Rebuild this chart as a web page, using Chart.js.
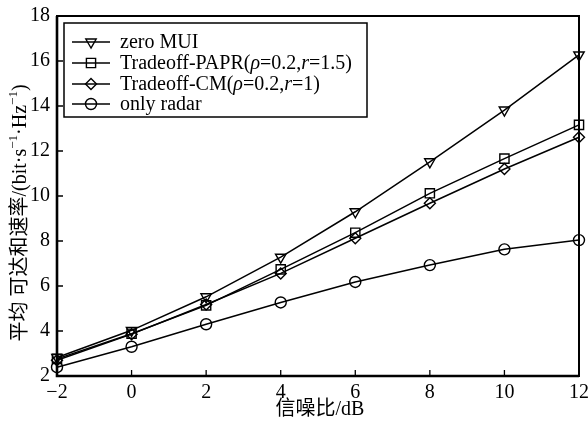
<!DOCTYPE html>
<html>
<head>
<meta charset="utf-8">
<script src="https://cdn.jsdelivr.net/npm/chart.js@4"></script>
<style>
  body { margin: 0; background: #fff; }
</style>
</head>
<body>
<canvas id="myChart" width="588" height="421"></canvas>
<script>
// SNR points (dB) and average achievable sum rate per scheme
const snr = [-2, 0, 2, 4, 6, 8, 10, 12];
const zeroMUI = [2.82, 4.03, 5.52, 7.28, 9.30, 11.52, 13.82, 16.27];
const tradeoffPAPR = [2.76, 3.88, 5.14, 6.74, 8.37, 10.12, 11.66, 13.16];
const tradeoffCM = [2.70, 3.86, 5.18, 6.56, 8.12, 9.68, 11.20, 12.61];
const onlyRadar = [2.39, 3.30, 4.30, 5.27, 6.18, 6.93, 7.63, 8.04];

// legend text, split so that rho and r can be set in italics
const legendLabels = [
    [['zero MUI', false]],
    [['Tradeoff-PAPR(', false], ['\u03c1', true], ['=0.2,', false], ['r', true], ['=1.5)', false]],
    [['Tradeoff-CM(', false], ['\u03c1', true], ['=0.2,', false], ['r', true], ['=1)', false]],
    [['only radar', false]]
];

const xTitle = '信噪比/dB';
const yTitle = [['平均 可达和速率/(bit·s', 0], ['\u22121', 1], ['·Hz', 0], ['\u22121', 1], [')', 0]];

const FONT = '"Liberation Serif", "Noto Sans CJK SC", serif';

function pts(ys) {
    return snr.map((x, i) => ({ x: x, y: ys[i] }));
}

function series(label, ys, style, rot, r) {
    return {
        label: label,
        data: pts(ys),
        borderColor: '#000',
        backgroundColor: 'rgba(0,0,0,0)',
        borderWidth: 1.5,
        pointStyle: style,
        pointRotation: rot,
        pointRadius: r,
        pointBorderWidth: 1.4,
        pointBorderColor: '#000',
        pointBackgroundColor: 'rgba(0,0,0,0)',
        tension: 0,
        clip: false
    };
}

const datasets = [
    series('zero MUI', zeroMUI, 'triangle', 180, 6),
    series('Tradeoff-PAPR', tradeoffPAPR, 'rect', 0, 6.5),
    series('Tradeoff-CM', tradeoffCM, 'rectRot', 0, 5.5),
    series('only radar', onlyRadar, 'circle', 0, 5.5)
];

// box round the plot plus inward tick marks on bottom and left
const framePlugin = {
    id: 'frame',
    beforeDatasetsDraw(chart) {
        const ctx = chart.ctx;
        const a = chart.chartArea;
        const xs = chart.scales.x;
        const ys = chart.scales.y;
        ctx.save();
        ctx.strokeStyle = '#000';
        ctx.lineWidth = 2;
        ctx.strokeRect(a.left, a.top, a.right - a.left, a.bottom - a.top);
        ctx.lineWidth = 2.6;
        ctx.beginPath();
        ctx.moveTo(a.left, a.top);
        ctx.lineTo(a.left, a.bottom);
        ctx.lineTo(a.right, a.bottom);
        ctx.stroke();
        ctx.lineWidth = 1.3;
        ctx.beginPath();
        xs.ticks.forEach(t => {
            const px = xs.getPixelForValue(t.value);
            ctx.moveTo(px, a.bottom);
            ctx.lineTo(px, a.bottom - 6);
        });
        ys.ticks.forEach(t => {
            const py = ys.getPixelForValue(t.value);
            ctx.moveTo(a.left, py);
            ctx.lineTo(a.left + 6, py);
        });
        ctx.stroke();
        ctx.restore();
    }
};

// legend box and axis titles
const textPlugin = {
    id: 'texts',
    afterDatasetsDraw(chart) {
        const ctx = chart.ctx;
        const a = chart.chartArea;
        ctx.save();

        // legend
        const lx = 64, ly = 23, lw = 303, lh = 94;
        ctx.fillStyle = '#fff';
        ctx.fillRect(lx, ly, lw, lh);
        ctx.strokeStyle = '#000';
        ctx.lineWidth = 1.5;
        ctx.strokeRect(lx, ly, lw, lh);
        const rowY = [42, 63, 84, 104];
        legendLabels.forEach((segs, i) => {
            const y = rowY[i];
            const ds = chart.data.datasets[i];
            ctx.strokeStyle = '#000';
            ctx.lineWidth = 1.5;
            ctx.beginPath();
            ctx.moveTo(72, y);
            ctx.lineTo(110, y);
            ctx.stroke();
            ctx.fillStyle = 'rgba(0,0,0,0)';
            ctx.lineWidth = 1.4;
            Chart.helpers.drawPoint(ctx, {
                pointStyle: ds.pointStyle,
                radius: ds.pointRadius,
                rotation: ds.pointRotation,
                borderWidth: 1.4
            }, 91, y);
            let tx = 120;
            ctx.fillStyle = '#000';
            ctx.textBaseline = 'middle';
            ctx.textAlign = 'left';
            segs.forEach(s => {
                ctx.font = (s[1] ? 'italic ' : '') + '20px ' + FONT;
                ctx.fillText(s[0], tx, y + 1);
                tx += ctx.measureText(s[0]).width;
            });
        });

        // x title
        ctx.fillStyle = '#000';
        ctx.font = '20px ' + FONT;
        ctx.textAlign = 'center';
        ctx.textBaseline = 'middle';
        ctx.fillText(xTitle, (a.left + a.right) / 2 + 2, 410);

        // y title, rotated, with superscripts
        ctx.translate(20, 213);
        ctx.rotate(-Math.PI / 2);
        ctx.textAlign = 'left';
        let total = 0;
        yTitle.forEach(s => {
            ctx.font = (s[1] ? '13px ' : '20px ') + FONT;
            total += ctx.measureText(s[0]).width;
        });
        let tx = -total / 2;
        yTitle.forEach(s => {
            ctx.font = (s[1] ? '13px ' : '20px ') + FONT;
            ctx.fillText(s[0], tx, s[1] ? -6 : 1);
            tx += ctx.measureText(s[0]).width;
        });
        ctx.restore();
    }
};

const config = {
    type: 'line',
    data: { datasets: datasets },
    options: {
        responsive: false,
        animation: false,
        layout: { padding: { top: 16, right: 9, left: 0, bottom: 0 } },
        plugins: {
            legend: { display: false },
            tooltip: { enabled: false }
        },
        scales: {
            x: {
                type: 'linear',
                min: -2,
                max: 12,
                ticks: {
                    stepSize: 2,
                    padding: 5,
                    color: '#000',
                    maxRotation: 0,
                    font: { family: FONT, size: 20 },
                    callback: v => v < 0 ? '\u2212' + Math.abs(v) : '' + v
                },
                grid: { display: false, drawTicks: false },
                border: { display: false },
                afterFit(s) {
                    s.height = 45;
                    s.paddingLeft = 0;
                    s.paddingRight = 0;
                }
            },
            y: {
                min: 2,
                max: 18,
                ticks: {
                    stepSize: 2,
                    padding: 7,
                    color: '#000',
                    font: { family: FONT, size: 20 }
                },
                grid: { display: false, drawTicks: false },
                border: { display: false },
                afterFit(s) {
                    s.width = 57;
                    s.paddingTop = 0;
                    s.paddingBottom = 0;
                }
            }
        }
    },
    plugins: [framePlugin, textPlugin]
};

const myChart = new Chart(document.getElementById('myChart'), config);
</script>
</body>
</html>
